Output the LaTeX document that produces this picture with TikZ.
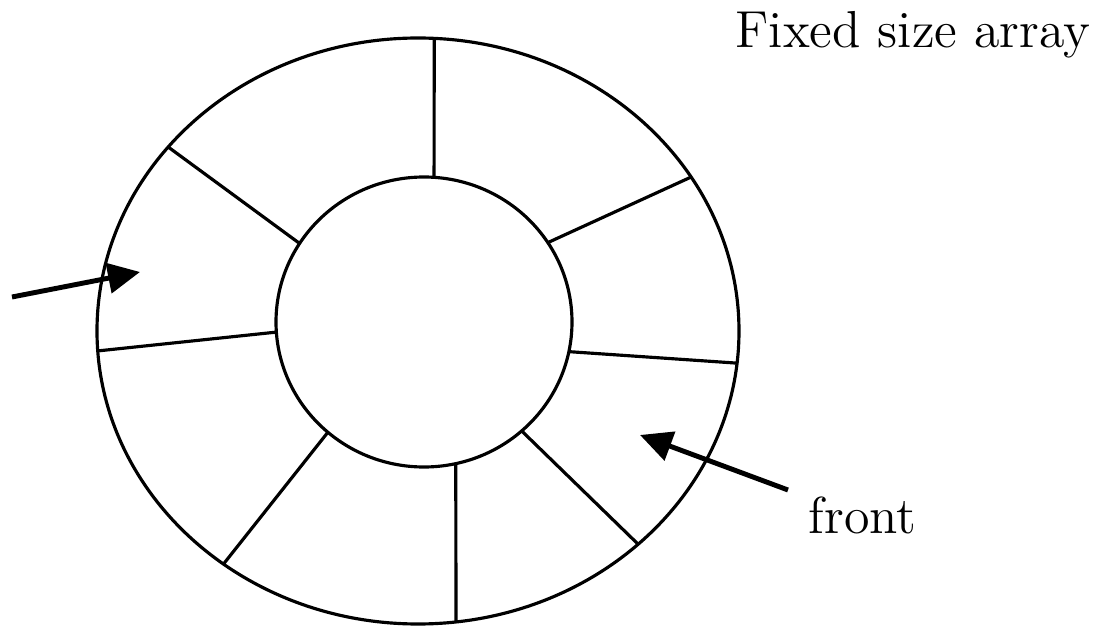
\documentclass[tikz,border=0pt]{standalone}
\usepackage{tikz}
\usetikzlibrary{positioning,arrows.meta,calc}

\begin{document}
\begin{tikzpicture}[
  every node/.style={font=\fontsize{14.8}{18}\selectfont},
  ring/.style={line width=0.9pt},
  spoke/.style={line width=0.9pt},
  pointer/.style={line width=1.4pt,-{Triangle[length=0.32cm,width=0.3cm]}}
]
\useasboundingbox (0,0) rectangle (11.02,6.26);

% 中心
\coordinate (Oc) at (4.18,2.95);
\coordinate (Ic) at (4.24,3.04);

% 外側と内側の円
\draw[ring] (Oc) ellipse (3.21 and 2.93);
\draw[ring] (Ic) ellipse (1.48 and 1.45);

% 仕切り
\foreach \a/\b in {86.1/87.1, 33.2/31.7, -11.8/-6.3, -48.7/-46.7,
                   -77.6/-83.2, 229.5/232.7, 184/183.9, 147.2/141.1}
  \draw[spoke] ([shift={(Ic)}]\a:1.48 and 1.45) -- ([shift={(Oc)}]\b:3.21 and 2.93);

% ラベル
\node[anchor=base west,inner sep=0pt] (title) at (7.35,5.78) {Fixed size array};
\node[anchor=base west,inner sep=0pt] (front) at (8.08,0.93) {front};

% 矢印
\coordinate (reartail) at (0.12,3.29);
\coordinate (reartip)  at (1.40,3.54);
\coordinate (fronttail) at (7.88,1.36);
\coordinate (fronttip)  at (6.40,1.91);
\draw[pointer] (reartail) -- (reartip);
\draw[pointer] (fronttail) -- (fronttip);
\end{tikzpicture}
\end{document}
